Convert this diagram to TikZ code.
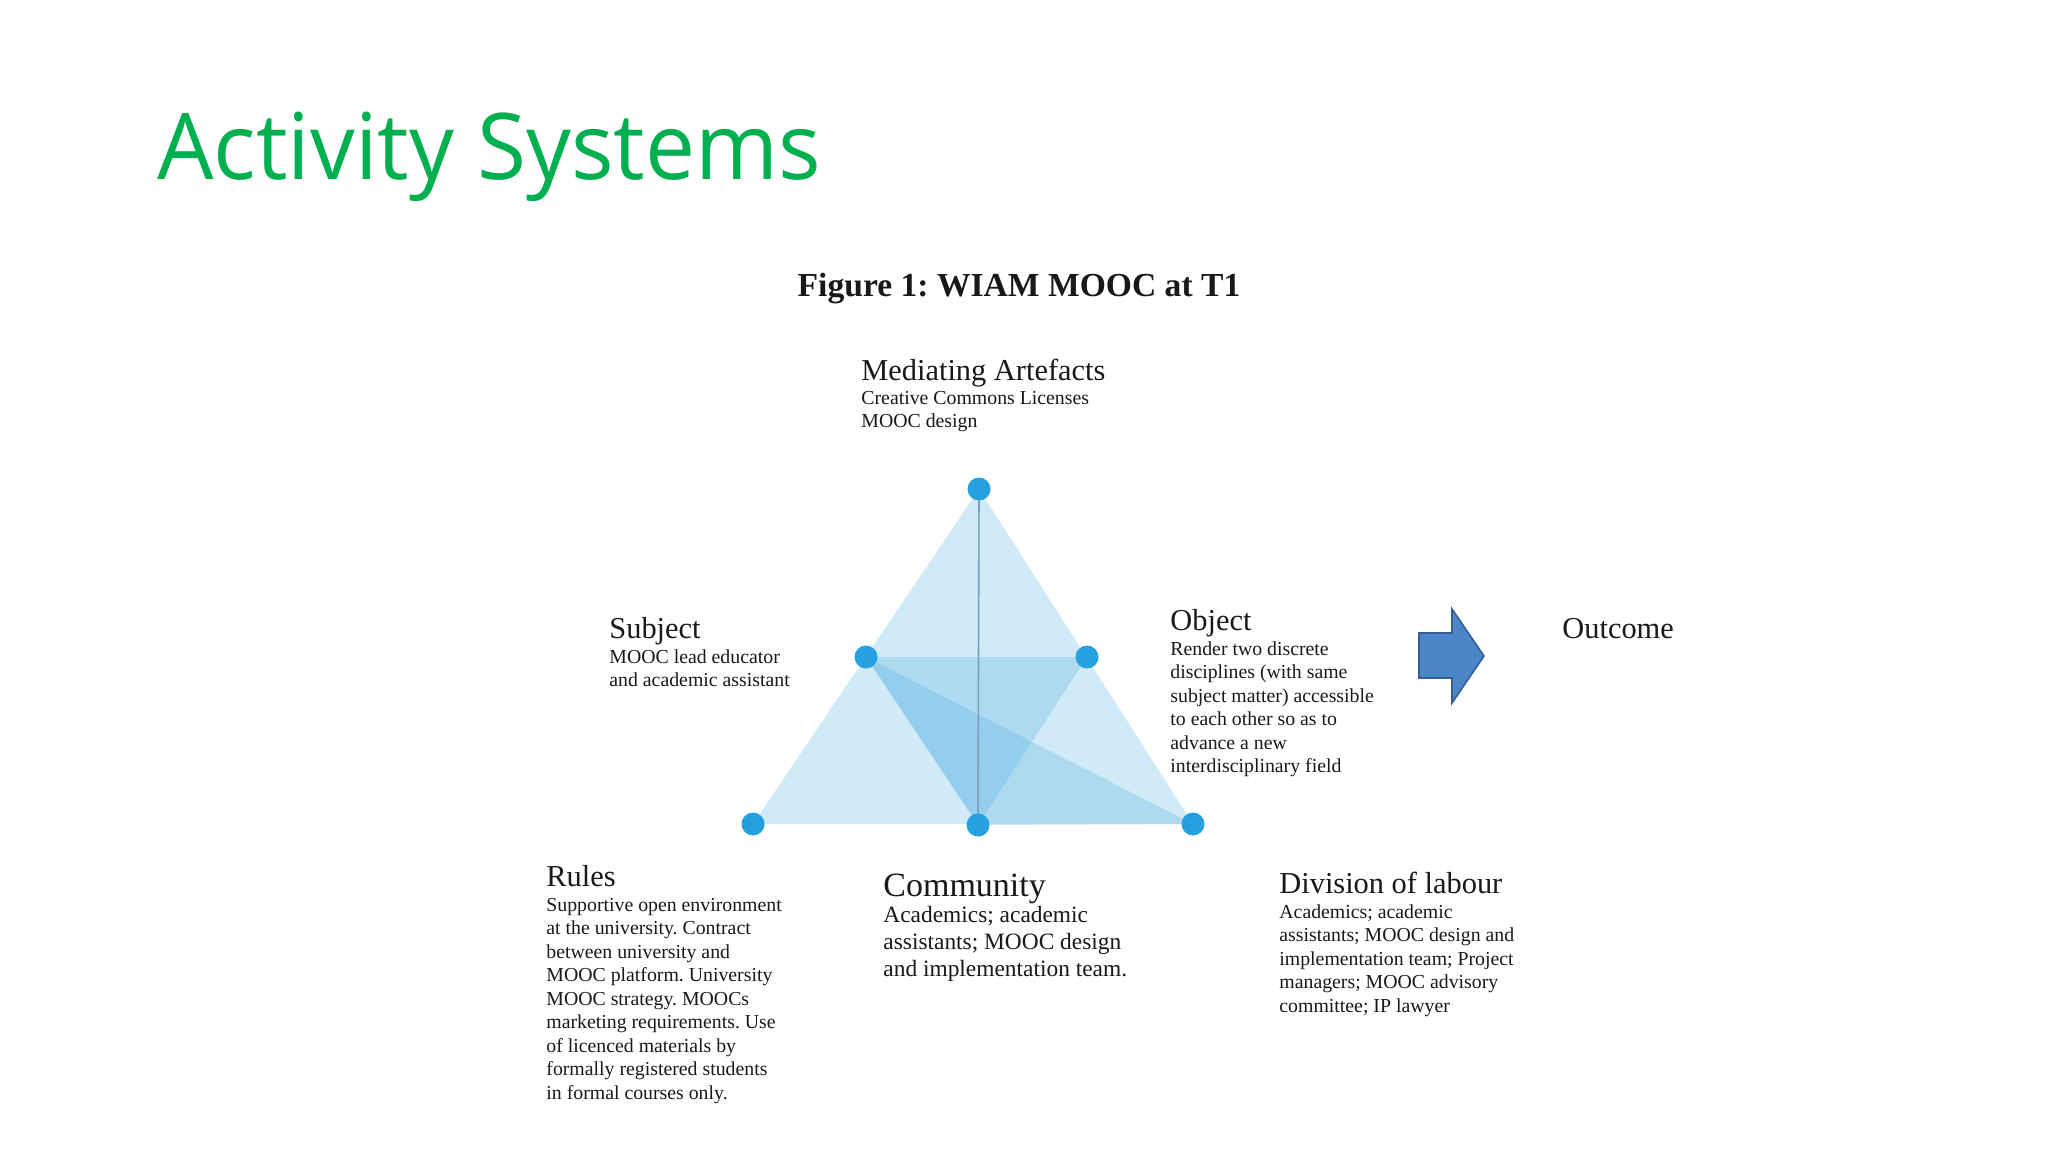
\documentclass[tikz,border=0pt]{standalone}
\usepackage{fontspec}
\setmainfont{Liberation Serif}
\newfontfamily\titlefont{Open Sans}
\frenchspacing
\definecolor{titlegreen}{RGB}{0,176,80}
\definecolor{triblue}{RGB}{66,170,225}
\definecolor{dotblue}{RGB}{38,160,222}
\definecolor{linegray}{RGB}{120,160,190}
\definecolor{arrowfill}{RGB}{75,135,200}
\definecolor{arrowdraw}{RGB}{55,95,150}
\definecolor{txt}{RGB}{25,25,25}
\begin{document}
\begin{tikzpicture}[x=0.5pt,y=-0.5pt,
  dot/.style={circle,fill=dotblue,inner sep=0pt,minimum size=11.5pt},
  head/.style={anchor=base west,inner sep=0pt,text=txt,font=\fontsize{15.2}{18}\selectfont},
  body/.style={anchor=base west,inner sep=0pt,text=txt,align=left,font=\fontsize{9.9}{11.75}\selectfont},
  layer/.style={fill=triblue,fill opacity=0.24}]
\fill[white] (0,0) rectangle (2048,1152);
\useasboundingbox (0,0) rectangle (2048,1152);
% title
\node[anchor=base west,inner sep=0pt,text=titlegreen,font=\titlefont\fontsize{46}{56}\selectfont,xscale=0.97,transform shape] (title) at (157,179) {Activity Systems};
\node[anchor=base,inner sep=0pt,text=txt,font=\bfseries\fontsize{16.8}{20}\selectfont] (cap) at (1019,296) {Figure 1: WIAM MOOC at T1};
% vertices
\coordinate (top) at (979,489);
\coordinate (ml) at (866,657);
\coordinate (mr) at (1087,657);
\coordinate (bl) at (753,824);
\coordinate (bm) at (978,825);
\coordinate (br) at (1193,824);
% triangles
\fill[layer] (bl) -- (top) -- (br) -- cycle;
\fill[layer] (ml) -- (mr) -- (bm) -- cycle;
\fill[layer] (ml) -- (bm) -- (br) -- cycle;
\draw[linegray,line width=0.8pt] (top) -- (bm);
% dots
\node[dot] (dtop) at (top) {};
\node[dot] (dml) at (ml) {};
\node[dot] (dmr) at (mr) {};
\node[dot] (dbl) at (bl) {};
\node[dot] (dbm) at (bm) {};
\node[dot] (dbr) at (br) {};
% labels (body nodes: base = baseline of last line)
\node[head] (medH) at (861,380) {Mediating Artefacts};
\node[body] (medB) at (861,427.5) {Creative Commons Licenses\\MOOC design};
\node[head] (subH) at (609,638) {Subject};
\node[body] (subB) at (609,686.5) {MOOC lead educator\\and academic assistant};
\node[head] (objH) at (1170,630) {Object};
\node[body] (objB) at (1170,772.5) {Render two discrete\\disciplines (with same\\subject matter) accessible\\to each other so as to\\advance a new\\interdisciplinary field};
\node[head] (outH) at (1562,638) {Outcome};
\node[head] (rulH) at (546,886) {Rules};
\node[body] (rulB) at (546,1099) {Supportive open environment\\at the university. Contract\\between university and\\MOOC platform. University\\MOOC strategy. MOOCs\\marketing requirements. Use\\of licenced materials by\\formally registered students\\in formal courses only.};
\node[head,font=\fontsize{17}{20}\selectfont] (comH) at (883,896) {Community};
\node[body,font=\fontsize{11.7}{13.7}\selectfont] (comB) at (883,976.8) {Academics; academic\\assistants; MOOC design\\and implementation team.};
\node[head] (divH) at (1279,893) {Division of labour};
\node[body] (divB) at (1279,1012) {Academics; academic\\assistants; MOOC design and\\implementation team; Project\\managers; MOOC advisory\\committee; IP lawyer};
% arrow
\draw[arrowdraw,fill=arrowfill,line width=0.8pt,line join=miter] (1419,633) -- (1452,633) -- (1452,609) -- (1484,656) -- (1452,703) -- (1452,678) -- (1419,678) -- cycle;
\end{tikzpicture}
\end{document}
